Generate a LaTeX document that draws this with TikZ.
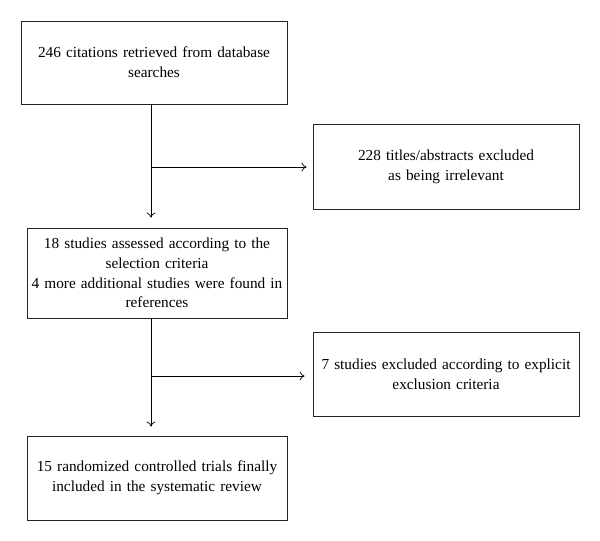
\documentclass[tikz,border=0pt]{standalone}
\usepackage{fontspec}
\setmainfont{Liberation Serif}
\usetikzlibrary{arrows.meta}

\begin{document}
\begin{tikzpicture}[x=1pt,y=-1pt,
    box/.style={draw=black!85, line width=0.9pt, align=center, inner sep=0pt,
                font=\fontsize{15.3}{19.7}\selectfont},
    link/.style={line width=0.7pt, -{To[length=5pt,width=9pt]}}]
\useasboundingbox (0,0) rectangle (600,541);

	% main column
	\node[box, minimum width=266pt, minimum height=83pt, text width=262pt] (cite) at (154,62.5)
	  {246 citations retrieved from database\\searches};
	\node[box, minimum width=260pt, minimum height=90pt, text width=258pt] (assess) at (157,273)
	  {18 studies assessed according to the\\selection criteria\\4 more additional studies were found in\\references};
	\node[box, minimum width=260pt, minimum height=84pt, text width=258pt] (final) at (157,478)
	  {15 randomized controlled trials finally\\included in the systematic review};

	% excluded
	\node[box, minimum width=266pt, minimum height=85pt, text width=262pt] (excl1) at (446,166.5)
	  {228 titles/abstracts excluded\\as being irrelevant};
	\node[box, minimum width=266pt, minimum height=84pt, text width=262pt] (excl2) at (446,374)
	  {7 studies excluded according to explicit\\exclusion criteria};

	\coordinate (fork1) at (151,167);
	\coordinate (fork2) at (151,376);

	\draw[line width=0.7pt] (cite.south -| fork1) -- (fork1);
	\draw[link, shorten >=10pt] (fork1) -- (assess.north -| fork1);
	\draw[link, shorten >=6pt] (fork1) -- (excl1.west |- fork1);

	\draw[line width=0.7pt] (assess.south -| fork2) -- (fork2);
	\draw[link, shorten >=9pt] (fork2) -- (final.north -| fork2);
	\draw[link, shorten >=8pt] (fork2) -- (excl2.west |- fork2);

\end{tikzpicture}
\end{document}
